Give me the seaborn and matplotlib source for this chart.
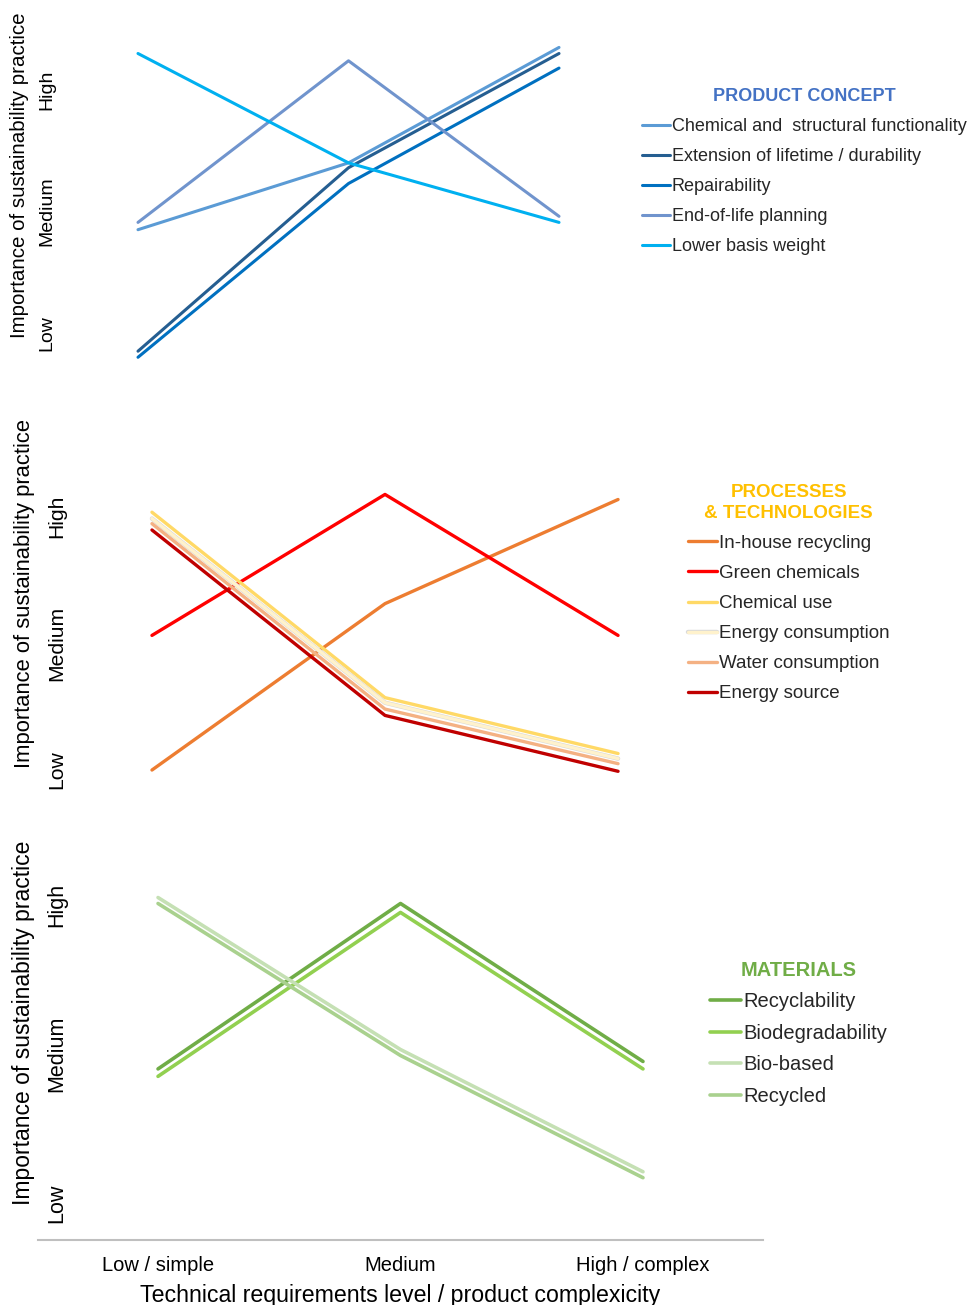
import pandas as pd
import seaborn as sns
import matplotlib.pyplot as plt
import matplotlib.patheffects as pe

# categories
levels = ["Low / simple", "Medium", "High / complex"]
importance = ["Low", "Medium", "High"]

# product concept (scores, Low=0 Medium=1 High=2)
concept_names = ["Chemical and  structural functionality", "Extension of lifetime / durability",
                 "Repairability", "End-of-life planning", "Lower basis weight"]
concept_colors = ["#5B9BD5", "#255E91", "#0070C0", "#7094CD", "#00B0F0"]
chemical_structural = [0.85, 1.40, 2.35]
extension_lifetime = [-0.15, 1.36, 2.30]
repairability = [-0.20, 1.23, 2.18]
end_of_life = [0.91, 2.24, 0.96]
lower_basis_weight = [2.30, 1.40, 0.91]

# processes & technologies
process_names = ["In-house recycling", "Green chemicals", "Chemical use",
                 "Energy consumption", "Water consumption", "Energy source"]
process_colors = ["#ED7D31", "#FF0000", "#FFD966", "#FFF2CC", "#F4B183", "#C00000"]
inhouse_recycling = [0.0, 1.31, 2.13]
green_chemicals = [1.06, 2.17, 1.06]
chemical_use = [2.03, 0.57, 0.13]
energy_consumption = [1.98, 0.53, 0.09]
water_consumption = [1.94, 0.48, 0.05]
energy_source = [1.89, 0.43, -0.01]

# materials
material_names = ["Recyclability", "Biodegradability", "Bio-based", "Recycled"]
material_colors = ["#70AD47", "#92D050", "#C5E0B4", "#A9D18E"]
recyclability = [0.90, 2.01, 0.95]
biodegradability = [0.85, 1.95, 0.90]
bio_based = [2.05, 1.03, 0.21]
recycled = [2.01, 0.99, 0.17]


def long_table(names, series):
    rows = []
    for name, vals in zip(names, series):
        for i, v in enumerate(vals):
            rows.append({"level": i, "practice": name, "score": v})
    return pd.DataFrame(rows)


df_concept = long_table(concept_names, [chemical_structural, extension_lifetime, repairability,
                                        end_of_life, lower_basis_weight])
df_process = long_table(process_names, [inhouse_recycling, green_chemicals, chemical_use,
                                        energy_consumption, water_consumption, energy_source])
df_material = long_table(material_names, [recyclability, biodegradability, bio_based, recycled])

sns.set_theme(style="white")
plt.rcParams["font.family"] = ["Liberation Sans", "DejaVu Sans"]

W, H = 967, 1305
fig = plt.figure(figsize=(W / 100, H / 100), dpi=100)


def px_box(left, top, width, height):
    return [left / W, 1 - (top + height) / H, width / W, height / H]


def px_pt(px):
    return px * 0.72


panels = [
    dict(df=df_concept, names=concept_names, colors=concept_colors,
         box=(38, 10, 725, 370), xlim=(-0.475, 2.969), ylim=(-0.387, 2.658), lw=2.2,
         tick_x=47, tick_fs=14, ylab=(20, 175), ylab_fs=14.8,
         title="PRODUCT CONCEPT", title_color="#4472C4", leg=(642, 88), leg_fs=13, spacing=0.72),
    dict(df=df_process, names=process_names, colors=process_colors,
         box=(38, 420, 725, 380), xlim=(-0.489, 2.622), ylim=(-0.236, 2.756), lw=2.4,
         tick_x=57, tick_fs=15.2, ylab=(25, 594), ylab_fs=15.8,
         title="PROCESSES\n& TECHNOLOGIES", title_color="#FFC000", leg=(688, 484), leg_fs=13.5, spacing=0.69),
    dict(df=df_material, names=material_names, colors=material_colors,
         box=(38, 840, 725, 400), xlim=(-0.495, 2.495), ylim=(-0.248, 2.436), lw=2.6,
         tick_x=57, tick_fs=15.5, ylab=(24, 1023), ylab_fs=16.5,
         title="MATERIALS", title_color="#70AD47", leg=(710, 961), leg_fs=14.5, spacing=0.62),
]

axes = []
for p in panels:
    left, top, width, height = p["box"]
    ax = fig.add_axes(px_box(left, top, width, height))
    sns.lineplot(data=p["df"], x="level", y="score", hue="practice", hue_order=p["names"],
                 palette=dict(zip(p["names"], p["colors"])), linewidth=p["lw"],
                 sort=False, ax=ax)
    ax.set_xlim(*p["xlim"])
    ax.set_ylim(*p["ylim"])
    for s in ax.spines.values():
        s.set_visible(False)
    ax.set_xlabel("")
    ax.set_xticks([])

    ax.set_yticks([0, 1, 2], importance, rotation=90, ha="center", va="center",
                  fontsize=p["tick_fs"], color="black")
    ax.tick_params(axis="y", length=0, pad=px_pt(left - p["tick_x"]))

    ax.set_ylabel("Importance of sustainability practice", fontsize=p["ylab_fs"],
                  va="center", color="black")
    ax.yaxis.set_label_coords((p["ylab"][0] - left) / width,
                              (top + height - p["ylab"][1]) / height)

    lx, ly = p["leg"]
    sns.move_legend(ax, "upper left", bbox_to_anchor=(lx / W, 1 - ly / H),
                    bbox_transform=fig.transFigure, title=p["title"],
                    title_fontsize=p["leg_fs"], title_fontweight="bold",
                    frameon=False, fontsize=p["leg_fs"], handlelength=1.55,
                    handletextpad=0.1, labelspacing=p["spacing"], borderpad=0,
                    borderaxespad=0)
    leg = ax.get_legend()
    leg.get_title().set_color(p["title_color"])
    leg.get_title().set_multialignment("center")
    leg.get_title().set_linespacing(1.3)
    axes.append(ax)

# the pale "Energy consumption" line has a faint grey rim
rim = [pe.Stroke(linewidth=3.2, foreground="#D9D9D9"), pe.Normal()]
axes[1].lines[3].set_path_effects(rim)
axes[1].get_legend().legend_handles[3].set_path_effects(rim)

ax = axes[-1]
ax.spines["bottom"].set_visible(True)
ax.spines["bottom"].set_color("#BFBFBF")
ax.spines["bottom"].set_linewidth(1.5)
ax.set_xticks([0, 1, 2], levels, fontsize=14.5, color="black")
ax.tick_params(axis="x", length=0, pad=11.5)
ax.set_xlabel("Technical requirements level / product complexicity", fontsize=16.7,
              color="black", labelpad=6.5)

fig.savefig("out.png", dpi=100)
